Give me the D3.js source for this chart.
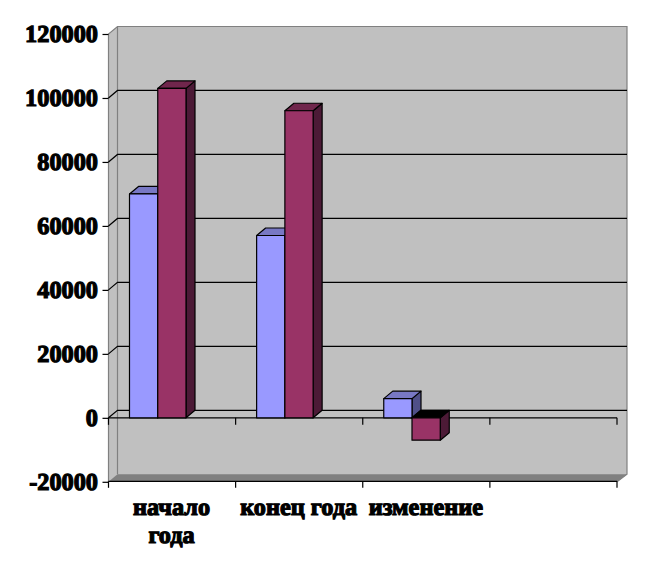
<!DOCTYPE html>
<html><head><meta charset="utf-8">
<script src="https://cdnjs.cloudflare.com/ajax/libs/d3/7.8.5/d3.min.js"></script>
<style>html,body{margin:0;background:#fff}svg{display:block}</style></head>
<body><svg id="c" width="648" height="571"></svg>
<script>
const categories = ["начало года", "конец года", "изменение", ""];
const seriesNames = ["A", "B"];
const seriesA = [70000, 57000, 6000];
const seriesB = [103000, 96000, -7000];
const yTicks = [120000, 100000, 80000, 60000, 40000, 20000, 0, -20000];
const seriesStyle = [
  {front:"#9999ff", top:"#7878c4", side:"#4f4f88"},
  {front:"#993366", top:"#70264c", side:"#4c1a36"}
];
const depthX = 9, depthY = 7.5;
const svg = d3.select("#c");
const x = d3.scaleBand().domain(categories).range([108.5, 617]);
const inner = d3.scaleBand().domain(seriesNames).range([21, 77.5]);
const y = d3.scaleLinear().domain([-20000, 120000]).range([481.8, 34]);
const L = x.range()[0], R = x.range()[1], T = y(120000), B = y(-20000), Z = y(0);
const pts = a => a.map(p => p.join(",")).join(" ");

// walls
svg.append("polygon").attr("points", pts([[L,T],[L+depthX,T-depthY],[R+depthX+1,T-depthY],[R+depthX+1,B-depthY],[R,B],[L,B]]))
  .attr("fill", "#c0c0c0");
svg.append("polygon").attr("points", pts([[L,B],[L+depthX,B-depthY],[R+depthX+1,B-depthY],[R,B]])).attr("fill", "#808080");
const edge = "#808080";
svg.append("path").attr("d", `M${L},${B}V${T}L${L+depthX},${T-depthY}H${R+depthX+1}V${B-depthY}L${R},${B}M${L+depthX},${T-depthY}V${B-depthY}`)
  .attr("fill","none").attr("stroke",edge).attr("stroke-width",1.2);

// gridlines
yTicks.filter(t => t !== 120000 && t !== -20000).forEach(t => {
  svg.append("path").attr("d", `M${L},${y(t)}L${L+depthX},${y(t)-depthY}H${R+depthX+1}`)
    .attr("fill","none").attr("stroke","#000").attr("stroke-width",1.2);
});

// bars
function bar(i, sIdx, v){
  const st = seriesStyle[sIdx];
  const bx = x(categories[i]) + inner(seriesNames[sIdx]), w = inner.bandwidth();
  const y0 = Math.min(y(v), Z), y1 = Math.max(y(v), Z);
  const g = svg.append("g").attr("stroke","#000").attr("stroke-width",1.2).attr("stroke-linejoin","round");
  g.append("polygon").attr("points", pts([[bx+w,y0],[bx+w+depthX,y0-depthY],[bx+w+depthX,y1-depthY],[bx+w,y1]])).attr("fill", st.side);
  g.append("polygon").attr("points", pts([[bx,y0],[bx+depthX,y0-depthY],[bx+w+depthX,y0-depthY],[bx+w,y0]])).attr("fill", v < 0 ? "#000" : st.top);
  g.append("rect").attr("x",bx).attr("y",y0).attr("width",w).attr("height",y1-y0).attr("fill",st.front);
}
svg.append("line").attr("x1",L).attr("x2",R).attr("y1",Z).attr("y2",Z).attr("stroke","#000").attr("stroke-width",1.2);
seriesA.forEach((v,i)=>bar(i,0,v));
seriesB.forEach((v,i)=>bar(i,1,v));

// axes
const yAxis = d3.axisLeft(y).tickValues(yTicks).tickSize(6).tickFormat(d => String(d));
const gy = svg.append("g").attr("transform",`translate(${L},0)`).call(yAxis);
gy.select(".domain").remove();
gy.selectAll("text").attr("x",-10.5).attr("dy","0.32em");

const tickXs = categories.map(c => x(c)).concat([R]);
tickXs.forEach(tx => {
  [[Z, Z+7],[B-0.5, B+6]].forEach(([a,b]) =>
    svg.append("line").attr("x1",tx).attr("x2",tx).attr("y1",a).attr("y2",b).attr("stroke","#000").attr("stroke-width",1.2));
});
svg.append("line").attr("x1",L).attr("x2",R).attr("y1",B-0.5).attr("y2",B-0.5).attr("stroke","#000").attr("stroke-width",1.2);
gy.selectAll("line").attr("stroke","#000").attr("stroke-width",1.2);

// category labels
const labelLines = {"начало года":["начало","года"], "конец года":["конец года"], "изменение":["изменение"], "":[]};
const lab = svg.append("g").attr("text-anchor","middle");
categories.forEach(c => {
  labelLines[c].forEach((t,j) => {
    lab.append("text").attr("x", x(c)+x.bandwidth()/2 - 0.5).attr("y", 515 + j*27.5).text(t);
  });
});
svg.selectAll("text").attr("font-family","'Liberation Serif',serif").attr("font-weight","bold").attr("font-size",24.3)
  .attr("text-rendering","geometricPrecision")
  .attr("fill","#000").attr("stroke","#000").attr("stroke-width",1.2);
</script></body></html>
